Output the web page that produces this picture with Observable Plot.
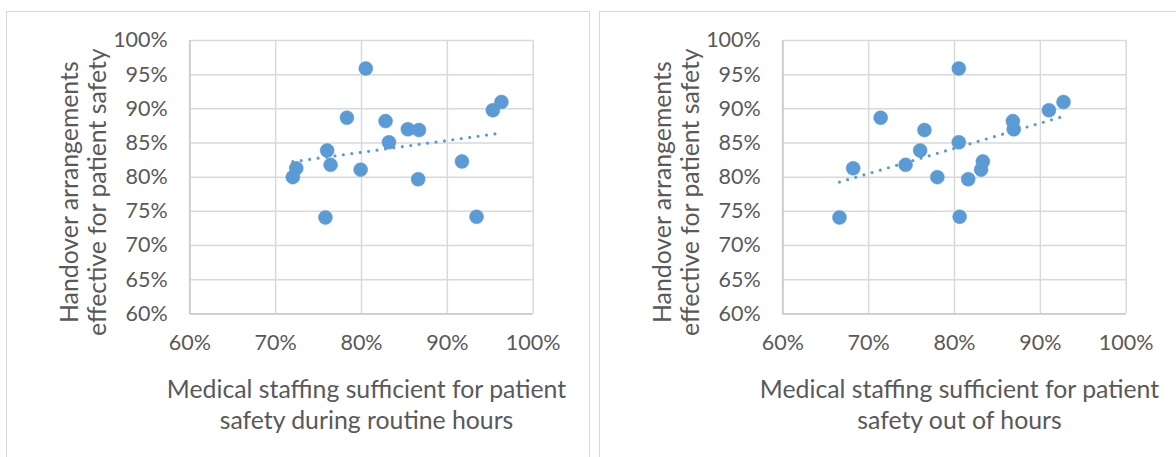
<!DOCTYPE html>
<html>
<head>
<meta charset="utf-8">
<script src="https://cdn.jsdelivr.net/npm/d3@7"></script>
<script src="https://cdn.jsdelivr.net/npm/@observablehq/plot@0.6"></script>
<style>
  html, body { margin: 0; padding: 0; background: #fff; width: 1176px; height: 457px; overflow: hidden; }
  .panel { position: absolute; top: 11px; height: 470px; border: 1px solid #d9d9d9; background: #fff; }
  .panel svg { display: block; }
</style>
</head>
<body>
<div id="p1" class="panel" style="left:6px; width:582px;"></div>
<div id="p2" class="panel" style="left:599px; width:600px;"></div>
<script>
// Handover arrangements effective for patient safety (%), one value per site
const handover = [95.9, 88.7, 83.9, 81.8, 81.1, 81.3, 80.0, 74.1, 88.2, 85.1, 87.0, 86.9, 79.7, 82.3, 74.2, 89.8, 91.0];
// Medical staffing sufficient for patient safety during routine hours (%)
const staffingRoutine = [80.5, 78.3, 76.0, 76.4, 79.9, 72.4, 72.0, 75.8, 82.8, 83.2, 85.4, 86.7, 86.6, 91.7, 93.4, 95.3, 96.3];
// Medical staffing sufficient for patient safety out of hours (%)
const staffingOOH = [80.5, 71.4, 76.0, 74.3, 83.1, 68.2, 78.0, 66.6, 86.8, 80.5, 86.9, 76.5, 81.6, 83.3, 80.6, 91.0, 92.7];

const xTicks = [60, 70, 80, 90, 100];
const yTicks = [60, 65, 70, 75, 80, 85, 90, 95, 100];
const yTitle = "Handover arrangements\neffective for patient safety";
const xTitle1 = "Medical staffing sufficient for patient\nsafety during routine hours";
const xTitle2 = "Medical staffing sufficient for patient\nsafety out of hours";

const BLUE = "#5B9BD5";
const GRID = "#d9d9d9";
const TEXT = "#595959";
const FONT = "Lato, 'Open Sans', sans-serif";

function panel(xs, xTitle, width) {
  const data = xs.map((x, i) => ({x, y: handover[i]}));
  const W = width, H = 450;
  const mL = 182.3, mT = 28;
  const mR = W - 525.7;
  const mB = H - 301.3;
  return Plot.plot({
    width: W, height: H,
    marginLeft: mL, marginRight: mR, marginTop: mT, marginBottom: mB,
    style: {fontFamily: FONT, fontSize: "20px", color: TEXT, background: "transparent", overflow: "visible"},
    x: {domain: [60, 100], ticks: xTicks, tickFormat: d => d + "%"},
    y: {domain: [60, 100], ticks: yTicks, tickFormat: d => d + "%"},
    marks: [
      Plot.gridX(xTicks, {stroke: GRID, strokeOpacity: 1, strokeWidth: 1.5}),
      Plot.gridY(yTicks, {stroke: GRID, strokeOpacity: 1, strokeWidth: 1.5}),
      Plot.ruleX([60], {stroke: "#cccccc", strokeWidth: 1.8}),
      Plot.ruleY([60], {stroke: "#cccccc", strokeWidth: 1.8}),
      Plot.axisX(xTicks, {tickSize: 0, tickPadding: 21, label: null, fill: TEXT, fontSize: 21.5, tickFormat: d => d + "%"}),
      Plot.axisY(yTicks, {tickSize: 0, tickPadding: 22, label: null, fill: TEXT, fontSize: 21.5, tickFormat: d => d + "%"}),
      Plot.dot(data, {x: "x", y: "y", r: 7, fill: BLUE, stroke: BLUE, strokeWidth: 0.5}),
      Plot.linearRegressionY(data, {x: "x", y: "y", ci: 0, stroke: BLUE, strokeWidth: 3.2, strokeDasharray: "0 8.5", strokeLinecap: "round"}),
      Plot.text([yTitle], {frameAnchor: "left", textAnchor: "middle", lineAnchor: "middle", text: d => d, rotate: -90, dx: -107, dy: 15, fontSize: 24.8, lineHeight: 1.15, fill: TEXT}),
      Plot.text([xTitle], {frameAnchor: "bottom", textAnchor: "middle", lineAnchor: "middle", text: d => d, dx: 5, dy: 90, fontSize: 24.8, lineHeight: 1.22, fill: TEXT})
    ]
  });
}

document.getElementById("p1").appendChild(panel(staffingRoutine, xTitle1, 582));
document.getElementById("p2").appendChild(panel(staffingOOH, xTitle2, 582));
</script>
</body>
</html>
